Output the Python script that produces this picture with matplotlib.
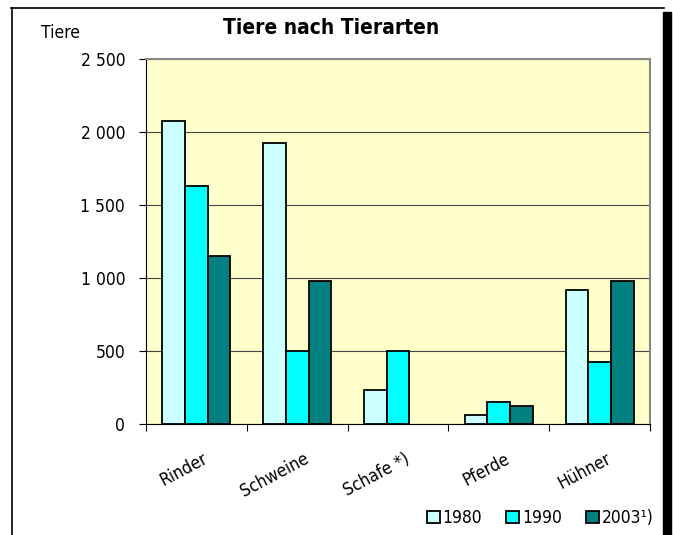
import numpy as np
import matplotlib.pyplot as plt
from matplotlib.patches import Rectangle
from matplotlib.lines import Line2D

categories = ["Rinder", "Schweine", "Schafe *)", "Pferde", "Hühner"]
years = ["1980", "1990", "2003¹)"]
v1980 = [2073, 1927, 233, 62, 918]
v1990 = [1632, 500, 500, 153, 427]
v2003 = [1151, 982, 0, 126, 982]
yticks = [0, 500, 1000, 1500, 2000, 2500]
ytick_labels = ["0", "500", "1 000", "1 500", "2 000", "2 500"]

colors = ["#CCFFFF", "#00FFFF", "#008080"]

plt.rcParams['font.family'] = ['DejaVu Sans']
plt.rcParams['font.stretch'] = 'condensed'

W, H = 673, 535
fig = plt.figure(figsize=(W / 100, H / 100), dpi=100)
ax = fig.add_axes([146 / W, 1 - 424 / H, (650 - 146) / W, (424 - 59) / H])
ax.set_facecolor("#FFFFCC")

x = np.arange(len(categories))
bw = 0.225
series = [v1980, v1990, v2003]
for i, vals in enumerate(series):
    bars = ax.bar(x + (i - 1) * bw, vals, width=bw, color=colors[i], edgecolor="black",
                  linewidth=1.3, label=years[i], zorder=3)
    for b, v in zip(bars, vals):
        if v == 0:
            b.set_visible(False)

ax.set_xlim(-0.5, len(categories) - 0.5)
ax.set_ylim(0, 2500)
ax.set_yticks(yticks)
ax.set_yticklabels(ytick_labels, fontsize=12.5)
ax.yaxis.grid(True, color="#444444", linewidth=0.8, zorder=1)
ax.set_axisbelow(True)

# category boundary ticks
ax.set_xticks(np.arange(-0.5, len(categories), 1.0))
ax.set_xticklabels([])
ax.tick_params(axis="x", direction="out", length=5, color="black")
ax.tick_params(axis="y", direction="out", length=5, color="black", pad=10)
for i, c in enumerate(categories):
    ax.text(i + 0.06, -175, c, rotation=28, rotation_mode="anchor",
            ha="right", va="top", fontsize=12.5)

for s in ["top", "right"]:
    ax.spines[s].set_color("#888888")
    ax.spines[s].set_linewidth(1.5)
ax.spines["left"].set_color("black")
ax.spines["bottom"].set_color("black")

fig.text(331 / W, 1 - 28 / H, "Tiere nach Tierarten", ha="center", va="center",
         fontsize=15, fontweight="bold")
fig.text(41 / W, 1 - 33 / H, "Tiere", ha="left", va="center", fontsize=12.5)

# legend
leg = fig.legend(loc="center", bbox_to_anchor=(540 / W, 1 - 518 / H), ncol=3,
                 frameon=False, fontsize=12.5, handlelength=0.75, handleheight=0.75,
                 handletextpad=0.15, columnspacing=1.4, borderpad=0, borderaxespad=0)

# outer frame
fig.add_artist(Line2D([11 / W, 664 / W], [1 - 8 / H, 1 - 8 / H], color="black", lw=1.2))
fig.add_artist(Line2D([12 / W, 12 / W], [1 - 8 / H, 0], color="black", lw=1.2))
fig.add_artist(Rectangle((663 / W, 0), 8 / W, 1 - 12 / H, color="black"))

plt.savefig("out.png", dpi=100)
